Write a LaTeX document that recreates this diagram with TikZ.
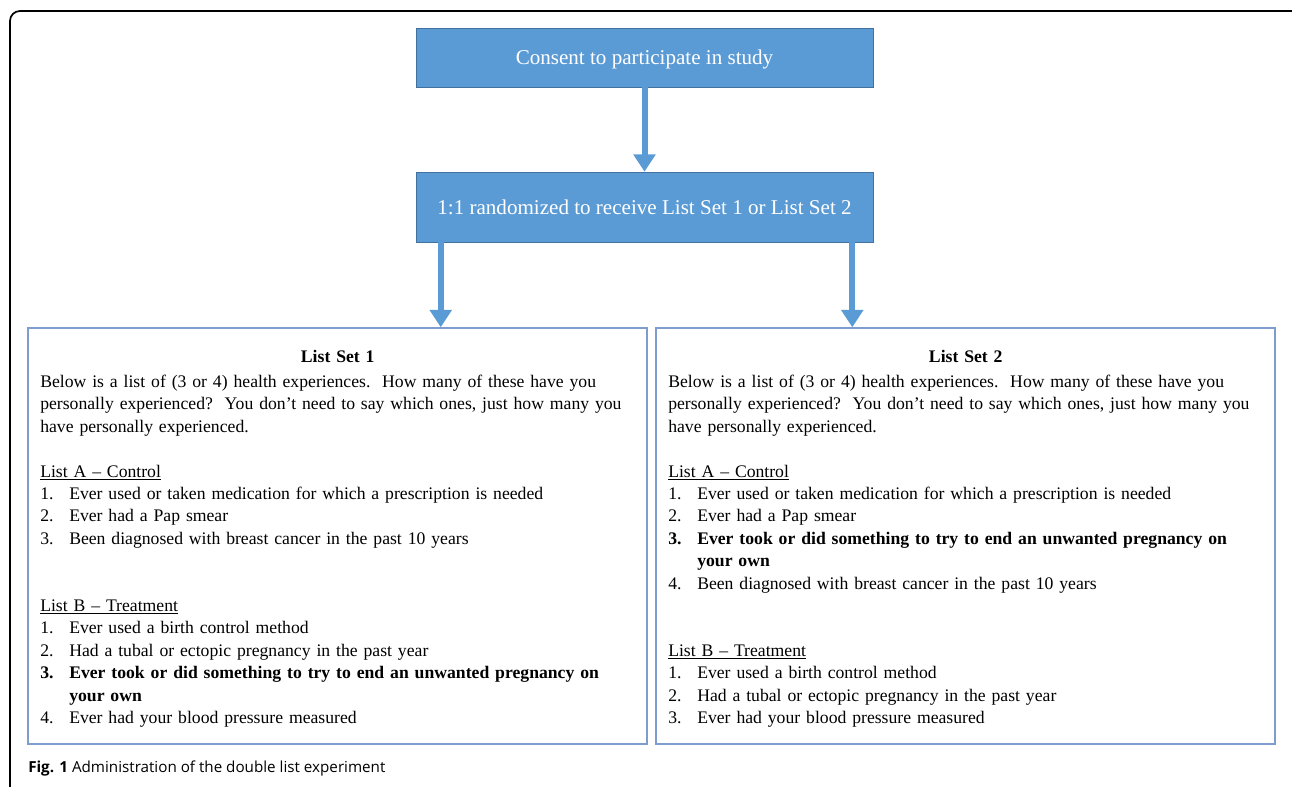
\documentclass[tikz,border=0pt]{standalone}
\usepackage{fontspec}
\setmainfont{Liberation Serif}
\newfontfamily\captionfont{Open Sans}
\usetikzlibrary{positioning,arrows.meta,calc}
\definecolor{officeblue}{HTML}{5B9BD5}
\definecolor{officeedge}{HTML}{41719C}
\definecolor{listedge}{HTML}{7F9CCF}
\newcommand{\itemno}[1]{\makebox[21.75pt][l]{#1.}}

\begin{document}
\begin{tikzpicture}[
    x=0.75pt, y=-0.75pt,
    stepbox/.style={
        draw=officeedge,
        fill=officeblue,
        text=white,
        minimum width=342.75pt,
        inner sep=0pt,
        text depth=0pt,
        font=\fontsize{15.8pt}{18pt}\selectfont,
    },
    listbox/.style={
        draw=listedge,
        line width=1.1pt,
        minimum width=464.25pt,
        minimum height=312pt,
        inner sep=0pt,
    },
    listtext/.style={
        anchor=north west,
        inner sep=0pt,
        text width=446.25pt,
        align=left,
        font=\fontsize{13.25pt}{16.8pt}\selectfont,
    },
    flowarrow/.style={
        draw=officeblue,
        line width=4.5pt,
        -{Triangle[width=16pt,length=13pt]},
    },
]

\useasboundingbox (0,0) rectangle (1292,787);
\clip (0,0) rectangle (1292,787);
\fill[white] (0,0) rectangle (1292,787);
\draw[line width=1.3pt, rounded corners=7.5pt] (10,11) rectangle (1320,820);

% flow boxes
\node[stepbox, minimum height=44.25pt] (consent) at (644.5,57.5) {Consent to participate in study};
\node[stepbox, minimum height=52.5pt] (rand) at (644.5,207) {1:1 randomized to receive List Set 1 or List Set 2};

% list sets
\node[listbox] (setOne) at (337.5,536) {};
\node[listbox] (setTwo) at (965.5,536) {};

\node[listtext] (setOneText) at (40,350) {%
\makebox[446.25pt]{\textbf{List Set 1}}\\[2pt]
Below is a list of (3 or 4) health experiences.\ \ How many of these have you\\
personally experienced?\ \ You don’t need to say which ones, just how many you\\
have personally experienced.\\[16.8pt]
\underline{List A – Control}\\
\itemno{1}Ever used or taken medication for which a prescription is needed\\
\itemno{2}Ever had a Pap smear\\
\itemno{3}Been diagnosed with breast cancer in the past 10 years\\[33.6pt]
\underline{List B – Treatment}\\
\itemno{1}Ever used a birth control method\\
\itemno{2}Had a tubal or ectopic pregnancy in the past year\\
\textbf{\itemno{3}Ever took or did something to try to end an unwanted pregnancy on}\\
\hspace*{21.75pt}\textbf{your own}\\
\itemno{4}Ever had your blood pressure measured};

\node[listtext] (setTwoText) at (668,350) {%
\makebox[446.25pt]{\textbf{List Set 2}}\\[2pt]
Below is a list of (3 or 4) health experiences.\ \ How many of these have you\\
personally experienced?\ \ You don’t need to say which ones, just how many you\\
have personally experienced.\\[16.8pt]
\underline{List A – Control}\\
\itemno{1}Ever used or taken medication for which a prescription is needed\\
\itemno{2}Ever had a Pap smear\\
\textbf{\itemno{3}Ever took or did something to try to end an unwanted pregnancy on}\\
\hspace*{21.75pt}\textbf{your own}\\
\itemno{4}Been diagnosed with breast cancer in the past 10 years\\[33.6pt]
\underline{List B – Treatment}\\
\itemno{1}Ever used a birth control method\\
\itemno{2}Had a tubal or ectopic pregnancy in the past year\\
\itemno{3}Ever had your blood pressure measured};

% arrows
\coordinate (forkL) at ($(rand.south west)+(25,0)$);
\coordinate (forkR) at ($(rand.south east)+(-21,0)$);
\draw[flowarrow] (consent) -- (rand);
\draw[flowarrow] (forkL) -- (forkL |- setOne.north);
\draw[flowarrow] (forkR) -- (forkR |- setTwo.north);

% caption
\node[anchor=base west, inner sep=0pt, font=\captionfont\fontsize{11.4pt}{13pt}\selectfont] (caption) at (28,772)
    {\textbf{Fig. 1} Administration of the double list experiment};

\end{tikzpicture}
\end{document}
